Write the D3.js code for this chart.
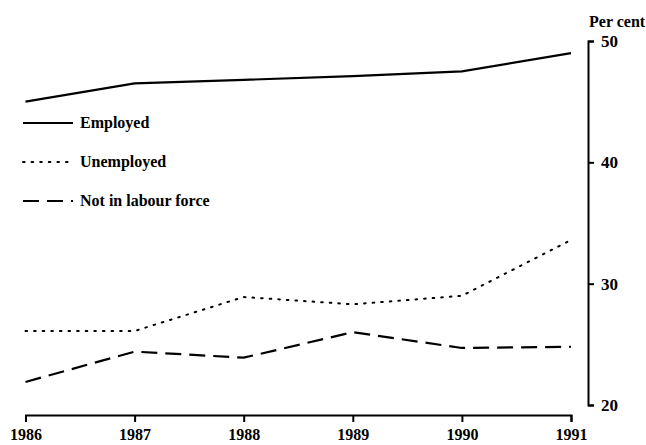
<!DOCTYPE html>
<html>
<head>
<meta charset="utf-8">
<script src="https://cdn.jsdelivr.net/npm/d3@7"></script>
<style>
  body { margin: 0; background: #fff; }
  svg text { font-family: "Liberation Serif", "DejaVu Serif", serif; fill: #000; font-weight: bold; }
  .axis path, .axis line { stroke: #000; stroke-width: 2; }
  .axis text { font-size: 17px; }
  .x.axis text { font-size: 16px; }
</style>
</head>
<body>
<svg id="chart"></svg>
<script>
// values
var years = [1986, 1987, 1988, 1989, 1990, 1991];
var employed = [45.0, 46.5, 46.8, 47.1, 47.5, 49.0];
var unemployed = [26.1, 26.1, 28.9, 28.3, 29.0, 33.6];
var notInLabourForce = [21.9, 24.4, 23.9, 26.0, 24.7, 24.8];
var yTicks = [20, 30, 40, 50];
var seriesNames = ["Employed", "Unemployed", "Not in labour force"];

var width = 646, height = 445;

var svg = d3.select("#chart")
    .attr("width", width)
    .attr("height", height);

var x = d3.scaleLinear()
    .domain([1986, 1991])
    .range([25.5, 571]);

var y = d3.scaleLinear()
    .domain([20, 50])
    .range([405, 41]);

var dashes = ["none", "1.6,7", "16,8"];

var series = [employed, unemployed, notInLabourForce].map(function(vals, i) {
  return {
    name: seriesNames[i],
    dash: dashes[i],
    values: years.map(function(yr, j) { return {year: yr, value: vals[j]}; })
  };
});

// x axis
var xAxis = d3.axisBottom(x)
    .tickValues(years)
    .tickFormat(d3.format("d"))
    .tickSize(7)
    .tickSizeOuter(7)
    .tickPadding(7);

svg.append("g")
    .attr("class", "x axis")
    .attr("transform", "translate(0,415)")
    .call(xAxis);

// y axis on the right
var yAxis = d3.axisRight(y)
    .tickValues(yTicks)
    .tickSize(6)
    .tickSizeOuter(6)
    .tickPadding(7);

svg.append("g")
    .attr("class", "y axis")
    .attr("transform", "translate(588,0)")
    .call(yAxis);

svg.append("text")
    .attr("x", 589)
    .attr("y", 27)
    .style("font-size", "16px")
    .text("Per cent");

var line = d3.line()
    .x(function(d) { return x(d.year); })
    .y(function(d) { return y(d.value); });

svg.selectAll(".series")
    .data(series)
  .enter().append("path")
    .attr("class", "series")
    .attr("d", function(d) { return line(d.values); })
    .attr("fill", "none")
    .attr("stroke", "#000")
    .attr("stroke-width", function(d, i) { return i == 1 ? 2 : 2.2; })
    .attr("stroke-linecap", function(d, i) { return i == 1 ? "round" : "butt"; })
    .attr("stroke-dasharray", function(d) { return d.dash; });

// legend
var legend = svg.selectAll(".legend")
    .data(series)
  .enter().append("g")
    .attr("class", "legend")
    .attr("transform", function(d, i) { return "translate(23," + (123 + i * 39) + ")"; });

legend.append("line")
    .attr("x1", 0)
    .attr("x2", 50)
    .attr("stroke", "#000")
    .attr("stroke-width", function(d, i) { return i == 1 ? 2 : 2.2; })
    .attr("stroke-linecap", function(d, i) { return i == 1 ? "round" : "butt"; })
    .attr("stroke-dasharray", function(d) { return d.dash; });

legend.append("text")
    .attr("x", 57)
    .attr("dy", "0.32em")
    .style("font-size", "16px")
    .text(function(d) { return d.name; });
</script>
</body>
</html>
